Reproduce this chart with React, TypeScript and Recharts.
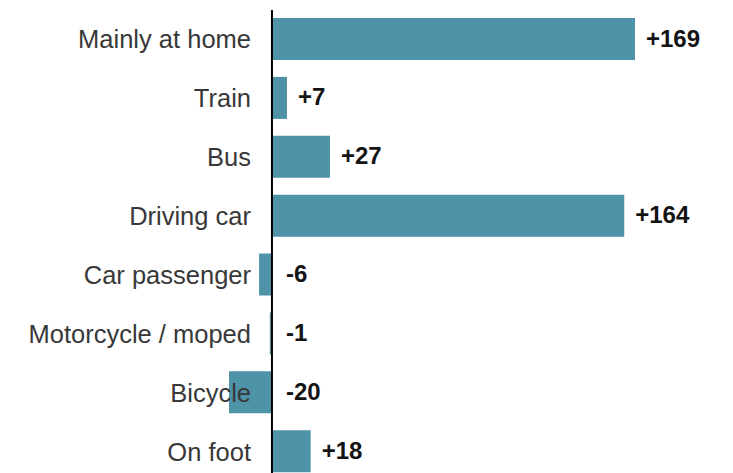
import React from "react";
import { BarChart, Bar, XAxis, YAxis, ReferenceLine, LabelList } from "recharts";

const categories = [
  "Mainly at home",
  "Train",
  "Bus",
  "Driving car",
  "Car passenger",
  "Motorcycle / moped",
  "Bicycle",
  "On foot",
];
const changes = [169, 7, 27, 164, -6, -1, -20, 18];

const data = categories.map((name, i) => ({ name, value: changes[i] }));

const FONT = "'Liberation Sans', Arial, sans-serif";

const CategoryTick = (props: any) => {
  const { x, y, payload } = props;
  return (
    <text
      x={x + 22}
      y={y}
      textAnchor="end"
      dominantBaseline="central"
      fontFamily={FONT}
      fontSize={25.5}
      fill="#383838"
    >
      {payload.value}
    </text>
  );
};

const ValueLabel = (props: any) => {
  const { x, y, width, height, value } = props;
  const right = Math.max(x, x + width);
  const lx = right + (value < 0 ? 14 : 11);
  const text = value > 0 ? `+${value}` : `${value}`;
  return (
    <text
      x={lx}
      y={y + height / 2 - 1}
      textAnchor="start"
      dominantBaseline="central"
      fontFamily={FONT}
      fontSize={24}
      fontWeight="bold"
      fill="#141414"
    >
      {text}
    </text>
  );
};

export default function App() {
  return (
    <div
      style={{
        position: "absolute",
        top: 0,
        left: 0,
        width: 733,
        height: 473,
        overflow: "hidden",
        background: "#fff",
      }}
    >
      <BarChart
        width={733}
        height={481}
        data={data}
        layout="vertical"
        margin={{ top: 10, right: 98, bottom: 0, left: 0 }}
      >
        <XAxis type="number" domain={[-20, 169]} hide />
        <Bar dataKey="value" fill="#4e93a8" barSize={42} isAnimationActive={false}>
          <LabelList dataKey="value" content={<ValueLabel />} />
        </Bar>
        <ReferenceLine x={0} stroke="#000" strokeWidth={2} ifOverflow="visible" />
        <YAxis
          type="category"
          dataKey="name"
          width={229}
          axisLine={false}
          tickLine={false}
          tickSize={0}
          tickMargin={0}
          interval={0}
          tick={<CategoryTick />}
        />
      </BarChart>
    </div>
  );
}
